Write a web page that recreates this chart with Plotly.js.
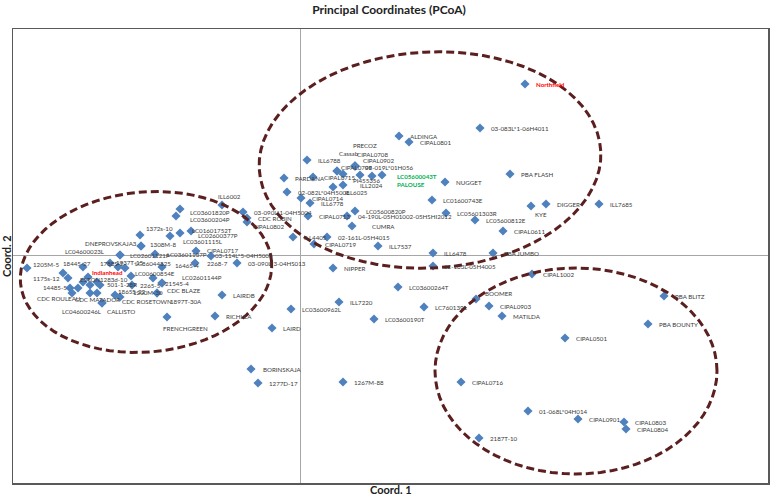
<!DOCTYPE html>
<html><head><meta charset="utf-8">
<script src="https://cdn.plot.ly/plotly-3.0.1.min.js"></script>
<style>html,body{margin:0;padding:0;background:#fff}#chart{width:778px;height:497px}</style>
</head><body><div id="chart"></div>
<script>
// Genotype names, Coord.1 and Coord.2 values
const names = [
 'Northfield','03-083L*1-06H4011','ALDINGA','CIPAL0801','PBA FLASH','ILL6788','NUGGET','LC05600043T<br>PALOUSE',
 'LC01600743E','KYE','DIGGER','ILL7685','LC05601303R','LC05600812E','CIPAL0611','PBA JUMBO','ILL6478','02-183L-05H4005',
 'ILL7537','CUMRA','LC05600820P','04-190L-05H01002-05HSHI2012','CIPAL0713','02-161L-05H4015','ILL4405','CIPAL0719',
 'ILL6778','CIPAL0714','02-082L*04H5008','ILL6025','PARDANA','CIPAL0715','PI455356','ILL2024','CIPAL0709','Cassab',
 '98-019L*01H056','CIPAL0902','PRECOZ','CIPAL0708','','',
 'ILL6002','03-090L*1-04H5004','CDC ROBIN','CIPAL0802','LC03601820P','LC03600204P','LC01601752T','LC02600377P','LC03601115L',
 '1372s-10','DNEPROVSKAJA3','1308M-8','LC04600023L','LC02601121P','LC03601137P','CIPAL0717','03-114L*5-04H5003',
 '03-090L*3-04HS013','2268-7','16465-4','LC86044325','1937T-15','LC00600854E','2265-5','21545-4','LC02601144P',
 'CDC BLAZE','1897T-30A','CDC ROSETOWN','1865S-22','1200M-30','LC04600246L','CALLISTO','LAIRDB','RICHLEA','FRENCHGREEN',
 '1205M-5','18445-27','1788S-2','Indianhead','1175s-12','ESTON','1283d-10','14485-5','501-1-28R','CDC ROULEAU','CDC MATADOR',
 '','','','',
 'NIPPER','LC03600264T','ILL7220','LC03600962L','LC03600190T','LC760139L','BOOMER','CIPAL0903','MATILDA','CIPAL1002',
 'PBA BLITZ','PBA BOUNTY','CIPAL0501','LAIRD','BORINSKAJA','1277D-17','1267M-88','CIPAL0716','01-068L*04H014','CIPAL0901',
 'CIPAL0803','CIPAL0804','2187T-10'
];
const coord1 = [
 2.25,1.80,0.99,1.09,2.10,0.07,1.45,0.82,
 1.32,2.31,2.46,2.99,1.46,1.75,2.03,1.93,1.33,1.33,
 0.78,0.52,0.55,0.47,0.08,0.27,-0.07,0.14,
 0.10,0.01,-0.13,0.33,-0.16,0.13,0.43,0.43,0.37,0.37,
 0.55,0.55,0.55,0.55,0.60,0.72,
 -0.78,-0.57,-0.53,-0.53,-1.20,-1.24,-1.20,-1.09,-1.30,
 -1.60,-1.59,-1.59,-1.80,-1.80,-1.45,-1.04,-0.89,
 -0.63,-1.05,-1.38,-1.75,-1.82,-1.69,-1.47,-1.38,-1.38,
 -1.43,-1.43,-1.80,-1.85,-1.68,-1.98,-1.98,-0.78,-0.85,-1.33,
 -2.73,-2.17,-1.90,-2.12,-2.37,-2.32,-2.03,-2.30,-2.00,-2.28,-2.22,
 -2.17,-2.10,-2.10,-2.03,
 0.33,0.98,0.39,-0.09,0.74,1.24,1.76,1.89,2.02,2.32,
 3.64,3.48,2.65,-0.28,-0.49,-0.42,0.43,1.61,2.28,2.78,
 3.24,3.26,1.79
];
const coord2 = [
 1.71,1.27,1.19,1.13,0.81,0.95,0.73,0.80,
 0.55,0.49,0.51,0.51,0.42,0.35,0.24,0.02,0.02,-0.11,
 0.09,0.29,0.44,0.39,0.39,0.18,0.18,0.11,
 0.52,0.57,0.63,0.68,0.77,0.78,0.81,0.70,0.84,0.84,
 0.89,0.89,0.89,0.89,0.80,0.79,
 0.50,0.43,0.37,0.33,0.46,0.39,0.22,0.24,0.19,
 0.20,0.09,0.09,0.00,0.00,0.01,0.04,-0.01,
 -0.08,-0.08,-0.12,-0.13,-0.12,-0.21,-0.23,-0.28,-0.28,
 -0.38,-0.38,-0.42,-0.40,-0.30,-0.48,-0.48,-0.40,-0.61,-0.62,
 -0.13,-0.12,-0.08,-0.22,-0.18,-0.23,-0.27,-0.33,-0.30,-0.38,-0.33,
 -0.27,-0.30,-0.38,-0.38,
 -0.13,-0.32,-0.47,-0.54,-0.64,-0.52,-0.44,-0.51,-0.61,-0.19,
 -0.41,-0.69,-0.83,-0.73,-1.14,-1.28,-1.27,-1.27,-1.56,-1.64,
 -1.67,-1.74,-1.83
];
const redNames = ['Northfield','Indianhead'];
const greenNames = ['LC05600043T<br>PALOUSE'];

// label placement (style): pixel offset [dx, dy] of the label's left/middle from the marker centre
const DEFAULT_OFF = [11, 0];
const labelOffset = {
 'LC05600043T<br>PALOUSE':[15,5], 'KYE':[4,8], 'CUMRA':[20,0], 'ILL6025':[12,5], 'PI455356':[10,6], 'ILL2024':[17,0],
 'CIPAL0709':[4,-4], 'Cassab':[2,-18], '98-019L*01H056':[10,1], 'CIPAL0902':[8,-6], 'PRECOZ':[-2,-21], 'CIPAL0708':[2,-12],
 'ILL6002':[-4,-9], 'CIPAL0802':[6,4], 'LC03601820P':[10,3], 'LC03600204P':[14,3], 'LC01601752T':[12,-3],
 'LC02600377P':[7,4], 'LC03601115L':[13,5],
 '1372s-10':[6,-7], 'DNEPROVSKAJA3':[-56,-3], '1308M-8':[9,-2], 'LC04600023L':[-55,-4], 'LC02601121P':[10,0],
 'LC03601137P':[12,0], 'CIPAL0717':[11,-1], '03-114L*5-04H5003':[4,-1], '2268-7':[12,0], '16465-4':[13,-2],
 'LC86044325':[10,-5], '1937T-15':[-2,-5], 'LC00600854E':[4,-3], '2265-5':[-13,7], '21545-4':[3,0], 'LC02601144P':[20,-6],
 'CDC BLAZE':[10,-3], '1897T-30A':[13,8], 'CDC ROSETOWN':[2,4], '1865S-22':[3,-4], '1200M-30':[1,7],
 'LC04600246L':[-40,8], 'CALLISTO':[5,8], 'FRENCHGREEN':[-4,11],
 '1205M-5':[6,-4], '18445-27':[-20,-4], '1788S-2':[-10,0], 'Indianhead':[4,-5], '1175s-12':[-30,5], 'ESTON':[12,1],
 '1283d-10':[3,-3], '14485-5':[-27,-1], '501-1-28R':[7,-1], 'CDC ROULEAU':[-35,5], 'CDC MATADOR':[-3,11],
 'BOOMER':[9,-6], 'BORINSKAJA':[12,0]
};

const labelFont = 'Lato, sans-serif';
const annotations = [];
names.forEach((n, i) => {
  if (!n) return;
  const off = labelOffset[n] || DEFAULT_OFF;
  const red = redNames.includes(n), green = greenNames.includes(n);
  annotations.push({
    x: coord1[i], y: coord2[i], xref: 'x', yref: 'y', showarrow: false,
    text: (red || green) ? '<b>' + n + '</b>' : n,
    xanchor: 'left', yanchor: 'middle', align: 'left', xshift: off[0] - 2, yshift: -off[1],
    font: {family: labelFont, size: 6.2, color: red ? '#ff0000' : (green ? '#00b050' : '#3a3a3a')}
  });
});
annotations.push(
  {text: '<b>Coord. 1</b>', xref: 'paper', yref: 'paper', x: 0.5, y: -0.0154, yanchor: 'middle', showarrow: false,
   font: {family: 'Lato, sans-serif', size: 11, color: '#222'}},
  {text: '<b>Coord. 2</b>', xref: 'paper', yref: 'paper', x: -0.0093, y: 0.5, xanchor: 'center', yanchor: 'middle',
   textangle: -90, showarrow: false, font: {family: 'Lato, sans-serif', size: 11, color: '#222'}}
);

// ellipse outlines (groupings), drawn as shapes
function ellipsePath(cx, cy, rx, ry, deg) {
  const t = deg * Math.PI / 180; let p = '';
  for (let i = 0; i <= 72; i++) {
    const a = 2 * Math.PI * i / 72;
    const ex = rx * Math.cos(a), ey = ry * Math.sin(a);
    const x = cx + ex * Math.cos(t) - ey * Math.sin(t);
    const y = cy + ex * Math.sin(t) + ey * Math.cos(t);
    p += (i === 0 ? 'M' : 'L') + x.toFixed(4) + ',' + y.toFixed(4);
  }
  return p + 'Z';
}
const ellLine = {color: '#5b1f1f', width: 3, dash: '8px,4px'};
const shapes = [
  {type:'path', xref:'x', yref:'y', path: ellipsePath(-1.54, -0.17, 1.26, 0.80, 5), line: ellLine},
  {type:'path', xref:'x', yref:'y', path: ellipsePath(1.30, 0.95, 1.71, 1.08, 3), line: ellLine},
  {type:'path', xref:'x', yref:'y', path: ellipsePath(2.76, -1.16, 1.41, 1.03, 0), line: ellLine}
];

const trace = {
  type: 'scatter', mode: 'markers', x: coord1, y: coord2, text: names,
  marker: {symbol: 'diamond', size: 7, color: '#4f81bd'},
  hoverinfo: 'text'
};

const layout = {
  width: 778, height: 497,
  margin: {l: 13, r: 10, t: 29, b: 14},
  paper_bgcolor: '#fff', plot_bgcolor: '#fff',
  showlegend: false,
  title: {text: '<b>Principal Coordinates (PCoA)</b>', x: 0.5, xanchor: 'center', y: 0.98, yref: 'container', yanchor: 'middle',
          font: {family: 'Lato, sans-serif', size: 12, color: '#222'}},
  xaxis: {range: [-2.87, 4.68], showgrid: false, zeroline: true, zerolinecolor: '#a6a6a6', zerolinewidth: 1,
          showticklabels: false, ticks: '', showline: true, mirror: true, linecolor: '#595959', linewidth: 1.5},
  yaxis: {range: [-2.28, 2.26], showgrid: false, zeroline: true, zerolinecolor: '#a6a6a6', zerolinewidth: 1,
          showticklabels: false, ticks: '', showline: true, mirror: true, linecolor: '#595959', linewidth: 1.5},
  shapes: shapes,
  annotations: annotations
};
Plotly.newPlot('chart', [trace], layout, {displayModeBar: false, staticPlot: true});
</script></body></html>
